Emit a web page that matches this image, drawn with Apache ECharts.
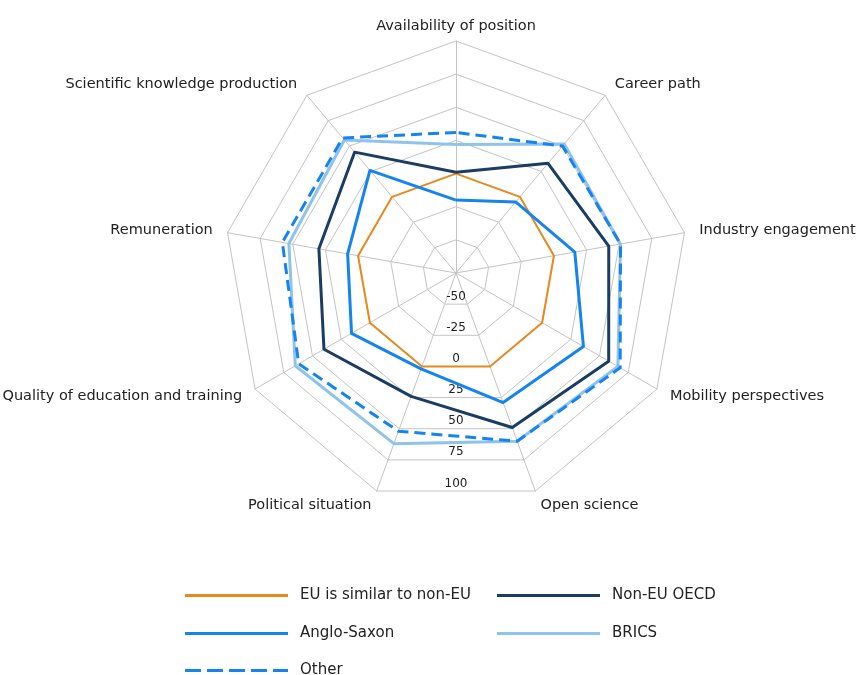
<!DOCTYPE html>
<html>
<head>
<meta charset="utf-8">
<title>Attractiveness radar</title>
<script src="https://cdn.jsdelivr.net/npm/echarts@6/dist/echarts.min.js"></script>
<style>
  html, body { margin: 0; padding: 0; background: #ffffff; }
  #chart { width: 864px; height: 675px; }
</style>
</head>
<body>
<div id="chart"></div>
<script>
// Dimensions, listed clockwise starting from the top axis
const indicatorNames = [
  'Availability of position',
  'Career path',
  'Industry engagement',
  'Mobility perspectives',
  'Open science',
  'Political situation',
  'Quality of education and training',
  'Remuneration',
  'Scientific knowledge production'
];

// Scores per group of countries (same order as indicatorNames)
const euSimilar  = [0, 0, 0, 0, 0, 0, 0, 0, 0];
const nonEuOecd  = [1, 33, 42, 58, 49, 24, 40, 30, 44];
const angloSaxon = [-20, -5, 16, 36, 29, 2, 16, 8, 26];
const brics      = [22, 52, 51, 66, 60, 62, 65, 53, 56];
const other      = [31, 50, 51, 68, 60, 52, 62, 58, 58];

const seriesNames = ['EU is similar to non-EU', 'Non-EU OECD', 'Anglo-Saxon', 'BRICS', 'Other'];

// Value scale shared by every spoke
const scaleMin = -75;
const scaleMax = 100;
const scaleStep = 25;

const FONT = 'DejaVu Sans';
const TEXT = '#222222';
const GRID = '#c4c4c4';

// ECharts places radar spokes counter-clockwise; flip the tail so the
// dimensions run clockwise from the top.
const clockwise = arr => [arr[0]].concat(arr.slice(1).reverse());

const indicators = clockwise(indicatorNames).map(name => ({ name: name, min: scaleMin, max: scaleMax }));

const styles = [
  { color: '#e8891c', width: 2,   type: 'solid' },
  { color: '#1b3d63', width: 3,   type: 'solid' },
  { color: '#1583f0', width: 3,   type: 'solid' },
  { color: '#8ec3ec', width: 3,   type: 'solid' },
  { color: '#1583f0', width: 3,   type: [11, 6] }
];
const values = [euSimilar, nonEuOecd, angloSaxon, brics, other];

const radarData = seriesNames.map((name, i) => ({
  name: name,
  value: clockwise(values[i]),
  symbol: 'none',
  itemStyle: { color: styles[i].color },
  lineStyle: { color: styles[i].color, width: styles[i].width, type: styles[i].type }
}));

const dashIcon = 'path://M0,0h16v3h-16z M22,0h16v3h-16z M44,0h16v3h-16z M66,0h16v3h-16z M88,0h15v3h-15z';

// Legend laid out as a two-column grid
const legendCells = [
  { name: seriesNames[0], left: 185, top: 588, icon: 'rect' },
  { name: seriesNames[1], left: 497, top: 588, icon: 'rect' },
  { name: seriesNames[2], left: 185, top: 626, icon: 'rect' },
  { name: seriesNames[3], left: 497, top: 626, icon: 'rect' },
  { name: seriesNames[4], left: 185, top: 663, icon: dashIcon }
];

const legends = legendCells.map(c => ({
  data: [c.name],
  left: c.left,
  top: c.top,
  padding: 0,
  icon: c.icon,
  itemWidth: 103,
  itemHeight: 3,
  itemStyle: { borderWidth: 0 },
  selectedMode: false,
  textStyle: { color: TEXT, fontFamily: FONT, fontSize: 15, padding: [0, 0, 0, 7] }
}));

const nameStyle = { color: TEXT, fontFamily: FONT, fontSize: 14.5 };

const option = {
  backgroundColor: '#ffffff',
  animation: false,
  legend: legends,
  radar: {
    center: [456, 273],
    radius: 232,
    startAngle: 90,
    shape: 'polygon',
    splitNumber: 7,
    nameGap: 15,
    indicator: indicators,
    axisName: Object.assign({
      // the top spoke's caption sits a little closer to the outer ring
      formatter: name => name === indicatorNames[0] ? '{top|' + name + '}' : name,
      rich: { top: Object.assign({ padding: [0, 0, -8, 0] }, nameStyle) }
    }, nameStyle),
    axisLine: { lineStyle: { color: GRID, width: 1 } },
    splitLine: { lineStyle: { color: GRID, width: 1 } },
    splitArea: { show: false }
  },
  // Hidden polar system used only to print the scale values down the lower gap
  polar: {
    center: [456, 265.5],
    radius: 218
  },
  angleAxis: {
    type: 'value',
    min: 0,
    max: 360,
    startAngle: 270,
    show: false
  },
  radiusAxis: {
    type: 'value',
    min: scaleMin,
    max: scaleMax,
    interval: scaleStep,
    axisLine: { show: false },
    axisTick: { show: false },
    splitLine: { show: false },
    splitArea: { show: false },
    axisLabel: {
      show: true,
      showMinLabel: false,
      margin: 0,
      align: 'center',
      verticalAlign: 'middle',
      color: TEXT,
      fontFamily: FONT,
      fontSize: 12
    }
  },
  series: [{
    type: 'radar',
    symbol: 'none',
    data: radarData
  }]
};

const chart = echarts.init(document.getElementById('chart'), null, { renderer: 'canvas' });
chart.setOption(option);
</script>
</body>
</html>
